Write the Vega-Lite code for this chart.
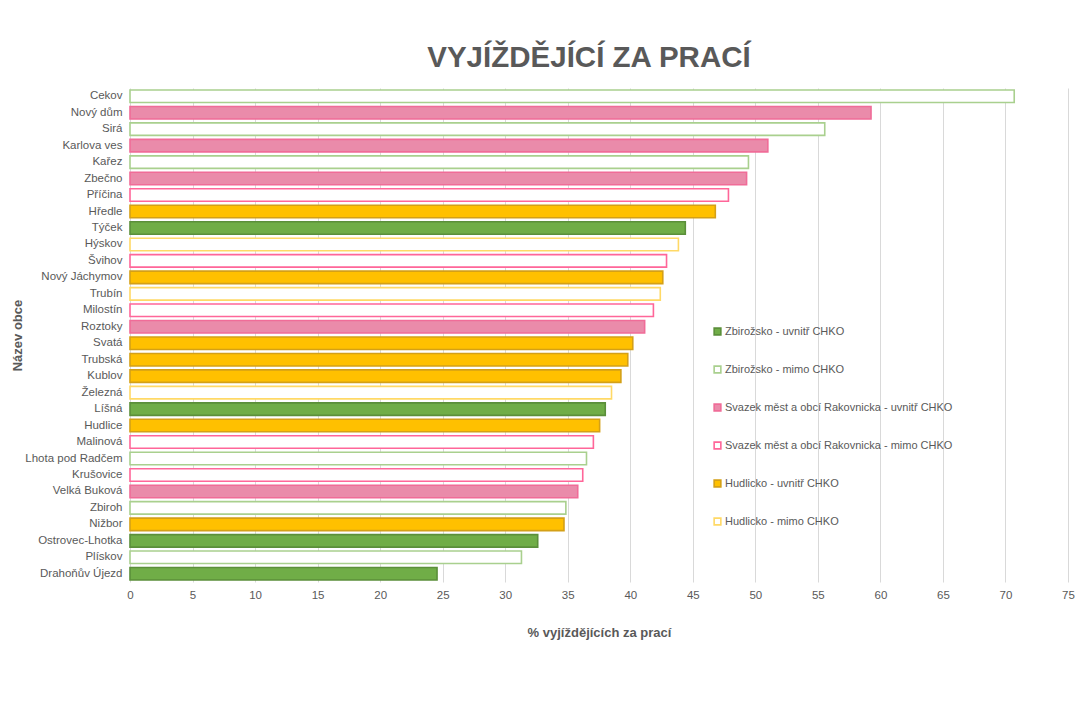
{
  "$schema": "https://vega.github.io/schema/vega-lite/v6.json",
  "autosize": {"type": "none"},
  "padding": {"left": 130, "top": 88, "right": 13, "bottom": 131},
  "width": 938,
  "height": 494,
  "background": "white",
  "config": {
    "font": "Liberation Sans",
    "view": {"stroke": null},
    "axis": {"labelColor": "#595959", "titleColor": "#595959", "labelFontSize": 11.5, "titleFontSize": 13, "titleFontWeight": "bold"}
  },
  "title": {
    "text": "VYJÍŽDĚJÍCÍ ZA PRACÍ",
    "fontSize": 29.5,
    "fontWeight": "bold",
    "color": "#595959",
    "font": "Liberation Sans",
    "anchor": "middle",
    "dx": -10,
    "offset": 15
  },
  "data": {
    "values": [
      {"obec": "Cekov", "pct": 70.7, "skupina": "Zbirožsko - mimo CHKO"},
      {"obec": "Nový dům", "pct": 59.25, "skupina": "Svazek měst a obcí Rakovnicka - uvnitř CHKO"},
      {"obec": "Sirá", "pct": 55.55, "skupina": "Zbirožsko - mimo CHKO"},
      {"obec": "Karlova ves", "pct": 51.0, "skupina": "Svazek měst a obcí Rakovnicka - uvnitř CHKO"},
      {"obec": "Kařez", "pct": 49.45, "skupina": "Zbirožsko - mimo CHKO"},
      {"obec": "Zbečno", "pct": 49.3, "skupina": "Svazek měst a obcí Rakovnicka - uvnitř CHKO"},
      {"obec": "Příčina", "pct": 47.85, "skupina": "Svazek měst a obcí Rakovnicka - mimo CHKO"},
      {"obec": "Hředle", "pct": 46.8, "skupina": "Hudlicko - uvnitř CHKO"},
      {"obec": "Týček", "pct": 44.4, "skupina": "Zbirožsko - uvnitř CHKO"},
      {"obec": "Hýskov", "pct": 43.85, "skupina": "Hudlicko - mimo CHKO"},
      {"obec": "Švihov", "pct": 42.9, "skupina": "Svazek měst a obcí Rakovnicka - mimo CHKO"},
      {"obec": "Nový Jáchymov", "pct": 42.6, "skupina": "Hudlicko - uvnitř CHKO"},
      {"obec": "Trubín", "pct": 42.4, "skupina": "Hudlicko - mimo CHKO"},
      {"obec": "Milostín", "pct": 41.85, "skupina": "Svazek měst a obcí Rakovnicka - mimo CHKO"},
      {"obec": "Roztoky", "pct": 41.15, "skupina": "Svazek měst a obcí Rakovnicka - uvnitř CHKO"},
      {"obec": "Svatá", "pct": 40.2, "skupina": "Hudlicko - uvnitř CHKO"},
      {"obec": "Trubská", "pct": 39.8, "skupina": "Hudlicko - uvnitř CHKO"},
      {"obec": "Kublov", "pct": 39.25, "skupina": "Hudlicko - uvnitř CHKO"},
      {"obec": "Železná", "pct": 38.5, "skupina": "Hudlicko - mimo CHKO"},
      {"obec": "Líšná", "pct": 38.0, "skupina": "Zbirožsko - uvnitř CHKO"},
      {"obec": "Hudlice", "pct": 37.55, "skupina": "Hudlicko - uvnitř CHKO"},
      {"obec": "Malinová", "pct": 37.05, "skupina": "Svazek měst a obcí Rakovnicka - mimo CHKO"},
      {"obec": "Lhota pod Radčem", "pct": 36.5, "skupina": "Zbirožsko - mimo CHKO"},
      {"obec": "Krušovice", "pct": 36.2, "skupina": "Svazek měst a obcí Rakovnicka - mimo CHKO"},
      {"obec": "Velká Buková", "pct": 35.8, "skupina": "Svazek měst a obcí Rakovnicka - uvnitř CHKO"},
      {"obec": "Zbiroh", "pct": 34.85, "skupina": "Zbirožsko - mimo CHKO"},
      {"obec": "Nižbor", "pct": 34.7, "skupina": "Hudlicko - uvnitř CHKO"},
      {"obec": "Ostrovec-Lhotka", "pct": 32.6, "skupina": "Zbirožsko - uvnitř CHKO"},
      {"obec": "Plískov", "pct": 31.3, "skupina": "Zbirožsko - mimo CHKO"},
      {"obec": "Drahoňův Újezd", "pct": 24.55, "skupina": "Zbirožsko - uvnitř CHKO"}
    ]
  },
  "mark": {"type": "bar", "strokeWidth": 1.6},
  "encoding": {
    "y": {
      "field": "obec",
      "type": "nominal",
      "sort": null,
      "scale": {"paddingInner": 0.24, "paddingOuter": 0.12},
      "axis": {"title": "Název obce", "ticks": false, "domain": false, "labelPadding": 8, "titlePadding": 0}
    },
    "x": {
      "field": "pct",
      "type": "quantitative",
      "scale": {"domain": [0, 75], "nice": false},
      "axis": {"title": "% vyjíždějících za prací", "values": [0,5,10,15,20,25,30,35,40,45,50,55,60,65,70,75], "ticks": false, "domain": false, "gridColor": "#D9D9D9", "labelPadding": 7, "titlePadding": 26, "labelFlush": false}
    },
    "fill": {
      "field": "skupina",
      "type": "nominal",
      "scale": {
        "domain": ["Zbirožsko - uvnitř CHKO", "Zbirožsko - mimo CHKO", "Svazek měst a obcí Rakovnicka - uvnitř CHKO", "Svazek měst a obcí Rakovnicka - mimo CHKO", "Hudlicko - uvnitř CHKO", "Hudlicko - mimo CHKO"],
        "range": ["#70AD47", "#FFFFFF", "#EA8BAA", "#FFFFFF", "#FFC000", "#FFFFFF"]
      },
      "legend": {
        "title": null,
        "orient": "none",
        "legendX": 582,
        "legendY": 238,
        "symbolType": "square",
        "symbolSize": 45,
        "symbolStrokeWidth": 1.6,
        "labelFontSize": 11,
        "labelColor": "#595959",
        "labelOffset": 2,
        "rowPadding": 23,
        "labelLimit": 400
      }
    },
    "stroke": {
      "field": "skupina",
      "type": "nominal",
      "scale": {
        "domain": ["Zbirožsko - uvnitř CHKO", "Zbirožsko - mimo CHKO", "Svazek měst a obcí Rakovnicka - uvnitř CHKO", "Svazek měst a obcí Rakovnicka - mimo CHKO", "Hudlicko - uvnitř CHKO", "Hudlicko - mimo CHKO"],
        "range": ["#5B8F3A", "#A9D08E", "#F06C98", "#FF6699", "#D4A017", "#FFD966"]
      }
    }
  }
}
